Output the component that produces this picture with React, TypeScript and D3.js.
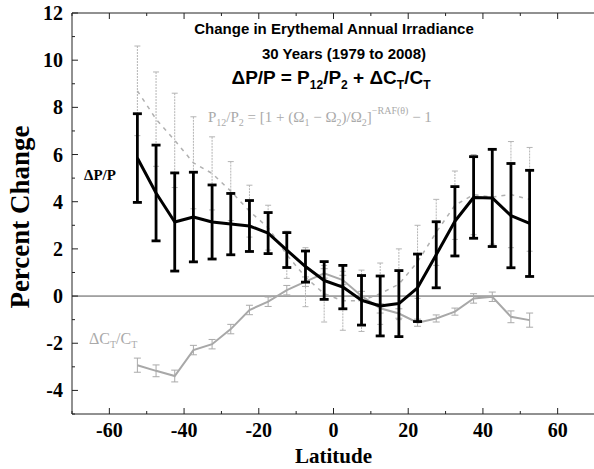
import React from 'react';
import * as d3 from 'd3';

const latitudes = [-52.5, -47.5, -42.5, -37.5, -32.5, -27.5, -22.5, -17.5, -12.5, -7.5, -2.5, 2.5, 7.5, 12.5, 17.5, 22.5, 27.5, 32.5, 37.5, 42.5, 47.5, 52.5];
const dPP = [5.85, 4.37, 3.14, 3.35, 3.14, 3.05, 2.97, 2.67, 1.95, 1.25, 0.66, 0.38, -0.18, -0.42, -0.32, 0.35, 1.75, 3.17, 4.18, 4.16, 3.41, 3.08];
const dPPErr = [1.88, 2.03, 2.08, 1.9, 1.57, 1.3, 1.08, 0.87, 0.74, 0.66, 0.8, 0.92, 1.05, 1.27, 1.4, 1.43, 1.4, 1.47, 1.73, 2.06, 2.21, 2.25];
const p12 = [8.7, 7.5, 6.6, 5.65, 5.2, 4.45, 3.6, 2.9, 1.75, 0.8, 0.1, -0.2, -0.2, 0.1, 0.5, 1.45, 2.7, 3.85, 4.3, 4.2, 4.3, 4.1];
const p12Err = [1.9, 2.0, 2.0, 1.95, 1.55, 1.25, 1.1, 0.95, 1.0, 1.25, 1.2, 1.25, 1.3, 1.3, 1.5, 1.55, 1.4, 1.45, 1.7, 2.0, 2.25, 2.2];
const dCC = [-2.93, -3.17, -3.39, -2.29, -2.04, -1.4, -0.59, -0.24, 0.25, 0.61, 0.96, 0.68, 0.0, -0.52, -0.74, -1.13, -0.95, -0.66, -0.1, -0.03, -0.88, -1.02];
const dCCErr = [0.3, 0.25, 0.25, 0.2, 0.2, 0.2, 0.2, 0.2, 0.2, 0.2, 0.2, 0.2, 0.2, 0.2, 0.2, 0.15, 0.15, 0.15, 0.2, 0.2, 0.25, 0.3];
const xTicks = [-60, -40, -20, 0, 20, 40, 60];
const xMinor = [-70, -50, -30, -10, 10, 30, 50, 70];
const yTicks = [-4, -2, 0, 2, 4, 6, 8, 10, 12];
const yMinor = [-5, -3, -1, 1, 3, 5, 7, 9, 11];

const serif = '"Liberation Serif", "Times New Roman", serif';
const sans = '"Liberation Sans", Arial, sans-serif';

export default function App() {
  const W = 594, H = 469;
  const x = d3.scaleLinear().domain([-70, 70]).range([72, 595]);
  const y = d3.scaleLinear().domain([-5, 12]).range([414, 13]);
  const x0 = x(-70), x1 = x(70), y0 = y(-5), y1 = y(12);

  const line = (vals: number[]) =>
    d3.line<number>().x((_, i) => x(latitudes[i])).y((v) => y(v))(vals) || '';

  const errBars = (vals: number[], errs: number[], cap: number, stroke: string, sw: number, dash?: string) =>
    vals.map((v, i) => {
      const cx = x(latitudes[i]);
      const top = y(v + errs[i]);
      const bot = y(v - errs[i]);
      return (
        <g key={i} stroke={stroke} strokeWidth={sw}>
          <line x1={cx} x2={cx} y1={top} y2={bot} strokeDasharray={dash} />
          <line x1={cx - cap} x2={cx + cap} y1={top} y2={top} />
          <line x1={cx - cap} x2={cx + cap} y1={bot} y2={bot} />
        </g>
      );
    });

  return (
    <svg width={W} height={H} style={{ position: 'absolute', left: 0, top: 0, background: '#fff' }}>
      <rect x={0} y={0} width={W} height={H} fill="#fff" />
      {/* zero line */}
      <line x1={x0} x2={x1} y1={y(0)} y2={y(0)} stroke="#555" strokeWidth={1} />

      {/* P12/P2 gray dashed */}
      {errBars(p12, p12Err, 3, '#b4b4b4', 1, '2,1')}
      <path d={line(p12)} fill="none" stroke="#b0b0b0" strokeWidth={1.5} strokeDasharray="4,5" />

      {/* dC/C light gray */}
      {errBars(dCC, dCCErr, 3.5, '#aaaaaa', 1)}
      <path d={line(dCC)} fill="none" stroke="#a8a8a8" strokeWidth={2} />

      {/* dP/P black */}
      {errBars(dPP, dPPErr, 4.5, '#000', 2.8)}
      <path d={line(dPP)} fill="none" stroke="#000" strokeWidth={3} strokeLinejoin="round" />

      {/* frame */}
      <g stroke="#222" strokeWidth={1} fill="none">
        <line x1={x0} x2={x1} y1={y0} y2={y0} />
        <line x1={x0} x2={x1} y1={y1} y2={y1} />
        <line x1={x0} x2={x0} y1={y0} y2={y1} />
      </g>
      {/* ticks */}
      <g stroke="#222" strokeWidth={1}>
        {xTicks.map((t) => (
          <g key={t}>
            <line x1={x(t)} x2={x(t)} y1={y0} y2={y0 - 6} />
            <line x1={x(t)} x2={x(t)} y1={y1} y2={y1 + 6} />
          </g>
        ))}
        {xMinor.map((t) => (
          <g key={t}>
            <line x1={x(t)} x2={x(t)} y1={y0} y2={y0 - 3} />
            <line x1={x(t)} x2={x(t)} y1={y1} y2={y1 + 3} />
          </g>
        ))}
        {yTicks.map((t) => (
          <line key={t} x1={x0} x2={x0 + 6} y1={y(t)} y2={y(t)} />
        ))}
        {yMinor.map((t) => (
          <line key={t} x1={x0} x2={x0 + 3} y1={y(t)} y2={y(t)} />
        ))}
      </g>
      {/* tick labels */}
      <g fontFamily={serif} fontWeight="bold" fontSize={20} fill="#000">
        {xTicks.map((t) => (
          <text key={t} x={x(t)} y={437} textAnchor="middle">{t}</text>
        ))}
        {yTicks.map((t) => (
          <text key={t} x={63} y={y(t) + 7} textAnchor="end">{t}</text>
        ))}
      </g>
      <text x={x(0)} y={463} textAnchor="middle" fontFamily={serif} fontWeight="bold" fontSize={21}>Latitude</text>
      <text transform={`translate(29,${217}) rotate(-90)`} textAnchor="middle" fontFamily={serif} fontWeight="bold" fontSize={27}>Percent Change</text>

      {/* titles */}
      <g fontFamily={sans} fontWeight="bold" fill="#000" textAnchor="middle">
        <text x={334} y={34} fontSize={15}>Change in Erythemal Annual Irradiance</text>
        <text x={344} y={59} fontSize={15}>30 Years (1979 to 2008)</text>
        <text x={331} y={84} fontSize={19}>
          ΔP/P = P<tspan fontSize={12} dy={5}>12</tspan><tspan dy={-5}>/P</tspan><tspan fontSize={12} dy={5}>2</tspan><tspan dy={-5}> + ΔC</tspan><tspan fontSize={12} dy={5}>T</tspan><tspan dy={-5}>/C</tspan><tspan fontSize={12} dy={5}>T</tspan>
        </text>
      </g>
      {/* gray formula */}
      <text x={208} y={122} fontFamily={serif} fontSize={15} fill="#aaa">
        P<tspan fontSize={10} dy={4}>12</tspan><tspan dy={-4}>/P</tspan><tspan fontSize={10} dy={4}>2</tspan><tspan dy={-4}> = [1 + (Ω</tspan><tspan fontSize={10} dy={4}>1</tspan><tspan dy={-4}> − Ω</tspan><tspan fontSize={10} dy={4}>2</tspan><tspan dy={-4}>)/Ω</tspan><tspan fontSize={10} dy={4}>2</tspan><tspan dy={-4}>]</tspan><tspan fontSize={10} dy={-8}>−RAF(θ)</tspan><tspan dy={8}> − 1</tspan>
      </text>
      {/* series labels */}
      <text x={84} y={180} fontFamily={serif} fontWeight="bold" fontSize={15}>ΔP/P</text>
      <text x={89} y={344} fontFamily={serif} fontSize={16} fill="#aaa">
        ΔC<tspan fontSize={10} dy={4}>T</tspan><tspan dy={-4}>/C</tspan><tspan fontSize={10} dy={4}>T</tspan>
      </text>
    </svg>
  );
}
